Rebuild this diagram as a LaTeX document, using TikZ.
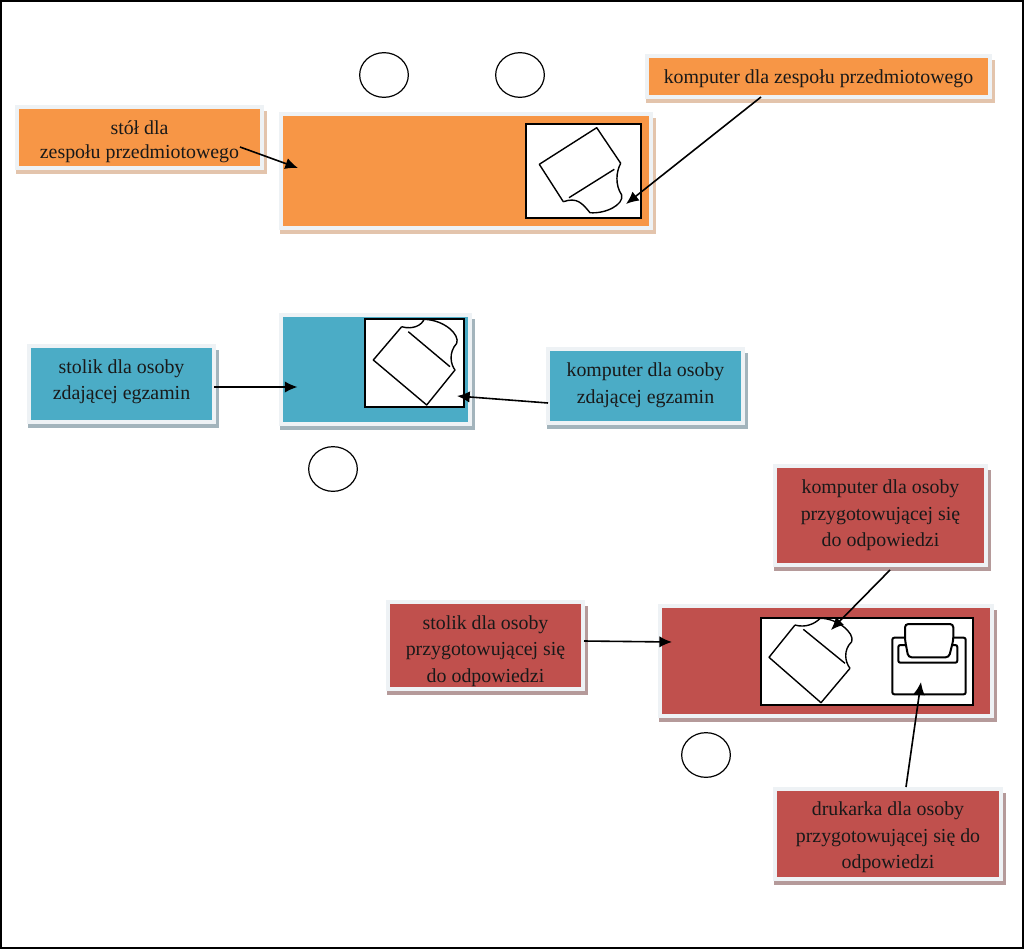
\documentclass[tikz,border=0pt]{standalone}
\usepackage{fontspec}
\setmainfont{Liberation Serif}
\usetikzlibrary{arrows.meta,shapes.geometric}
\definecolor{orangeF}{HTML}{F79646}
\definecolor{blueF}{HTML}{4BACC6}
\definecolor{redF}{HTML}{C0504D}
\definecolor{frameC}{HTML}{EEF2F5}
\definecolor{shO}{HTML}{E3C4AC}
\definecolor{shB}{HTML}{A3B4BC}
\definecolor{shR}{HTML}{B59A9A}
\tikzset{
  x=0.75pt,y=-0.75pt,
  boxn/.style={draw=frameC,line width=3.4pt,inner sep=0pt,outer sep=0pt,align=center,font=\fontsize{14.9}{20}\selectfont,text=black!90},
  whitebox/.style={draw=black,fill=white,line width=2.2pt,inner sep=0pt,outer sep=0pt},
  thin line/.style={draw=black,line width=1.05pt,line join=round},
  seat/.style={draw=black,fill=white,line width=0.9pt,ellipse,inner sep=0pt},
  arrowl/.style={draw=black,line width=1.2pt,-{Latex[length=9.5pt,width=8.5pt]}},
  printerp/.style={draw=black,fill=white,line width=1.5pt,rounded corners=1.5pt}
}
\newcommand{\labbox}[9]{% name x1 y1 x2 y2 fill shadow raise text
  \pgfmathsetmacro{\bw}{0.75*(#4-#2)}
  \pgfmathsetmacro{\bh}{0.75*(#5-#3)}
  \fill[#7] (#2-1,#3+4) rectangle (#4+5,#5+6);
  \node[boxn,fill=#6,minimum width=\bw pt,minimum height=\bh pt] (#1) at ({(#2+#4)/2},{(#3+#5)/2}) {\raisebox{#8}[0pt][0pt]{\begin{tabular}{@{}c@{}}#9\end{tabular}}};
}
\newcommand{\whbox}[5]{%
  \pgfmathsetmacro{\bw}{0.75*(#4-#2)}
  \pgfmathsetmacro{\bh}{0.75*(#5-#3)}
  \node[whitebox,minimum width=\bw pt,minimum height=\bh pt] (#1) at ({(#2+#4)/2},{(#3+#5)/2}) {};
}
\begin{document}
\begin{tikzpicture}
\useasboundingbox (0,0) rectangle (1024,949);
\fill[white] (0,0) rectangle (1024,949);
\draw[black,line width=1pt] (1,1) rectangle (1023,948);

% tables
\labbox{tabO}{281}{114}{651}{228}{orangeF}{shO}{0pt}{}
\labbox{tabB}{281}{315}{470}{424}{blueF}{shB}{0pt}{}
\labbox{tabR}{660}{606}{992}{716}{redF}{shR}{0pt}{}

% monitor zones
\whbox{zoneO}{526}{124}{641}{218}
\whbox{zoneB}{365}{319}{464}{407}
\whbox{zoneR}{761}{618}{973}{705}

% laptop, orange
\draw[thin line] (563.3,201.7) -- (539.3,164.3) -- (596.7,127.7) -- (620.7,163.3);
\draw[thin line] (569,197.7) -- (614.3,169.3);
\draw[thin line] (563.3,201.7) .. controls (577,197) and (582,203) .. (590,212.7)
  .. controls (605,214) and (624,205) .. (621.7,195) .. controls (615,185) and (616,172) .. (620.7,163.3);
% laptop, blue
\draw[thin line] (401.7,326.7) -- (373.3,360) -- (426.7,405) -- (455,370);
\draw[thin line] (408.3,331.7) -- (450,366.7);
\draw[thin line] (401.7,326.7) .. controls (413,330) and (422,325) .. (424,319.3)
  .. controls (445,320) and (460,335) .. (456.7,343.3) .. controls (448,353) and (451,365) .. (455,370);
% laptop, red
\draw[thin line] (795,625) -- (769,657.3) -- (821,702.7) -- (850,668.3);
\draw[thin line] (803.3,629.3) -- (845,663.3);
\draw[thin line] (795,625) .. controls (805,628) and (815,624) .. (820,618.3)
  .. controls (837,618) and (855,633) .. (851.7,641.7) .. controls (843,650) and (845,662) .. (850,668.3);
% printer
\draw[printerp] (892.3,637.7) rectangle (965.7,694.3);
\draw[printerp] (898.3,645) rectangle (957.3,662.7);
\draw[printerp,rounded corners=2.5pt] (905,624) -- (953.3,624) -- (953.3,640) -- (949,657.3) -- (908.3,657.3) -- (905,640) -- cycle;

% seats
\node[seat,minimum width=36.5pt,minimum height=33.5pt] (s1) at (384,75) {};
\node[seat,minimum width=36.5pt,minimum height=33.5pt] (s2) at (520,75) {};
\node[seat,minimum width=36.5pt,minimum height=33.5pt] (s3) at (333,469) {};
\node[seat,minimum width=36.5pt,minimum height=33.5pt] (s4) at (706,755) {};

% labels
\labbox{l1}{17}{107}{262}{168}{orangeF}{shO}{-6.3pt}{stół dla\\[-2pt]zespołu przedmiotowego}
\labbox{l2}{647}{56}{990}{97}{orangeF}{shO}{-5.2pt}{komputer dla zespołu przedmiotowego}
\labbox{l3}{29}{346}{214}{422}{blueF}{shB}{-1.4pt}{stolik dla osoby\\zdającej egzamin}
\labbox{l4}{548}{349}{743}{423}{blueF}{shB}{-2.6pt}{komputer dla osoby\\zdającej egzamin}
\labbox{l5}{775}{466}{986}{565}{redF}{shR}{-3pt}{komputer dla osoby\\przygotowującej się\\do odpowiedzi}
\labbox{l6}{388}{602}{583}{689}{redF}{shR}{-7.4pt}{stolik dla osoby\\przygotowującej się\\do odpowiedzi}
\labbox{l7}{775}{789}{1001}{879}{redF}{shR}{-5.7pt}{drukarka dla osoby\\przygotowującej się do\\odpowiedzi}

% arrows
\draw[arrowl] ([shift={(100.5,9.5)}]l1.center) -- ([shift={(-168,-3)}]tabO.center);
\draw[arrowl] ([shift={(-57.5,20.5)}]l2.center) -- ([shift={(42.5,33)}]zoneO.center);
\draw[arrowl] ([shift={(92.5,3)}]l3.center) -- ([shift={(-78,17.5)}]tabB.center);
\draw[arrowl] ([shift={(-97.5,17)}]l4.center) -- ([shift={(42.5,33)}]zoneB.center);
\draw[arrowl] ([shift={(9.5,54.5)}]l5.center) -- ([shift={(-36,-31.5)}]zoneR.center);
\draw[arrowl] ([shift={(98.5,-4.5)}]l6.center) -- ([shift={(-154,-19)}]tabR.center);
\draw[arrowl] ([shift={(18,-47)}]l7.center) -- ([shift={(54,20.5)}]zoneR.center);
\end{tikzpicture}
\end{document}
